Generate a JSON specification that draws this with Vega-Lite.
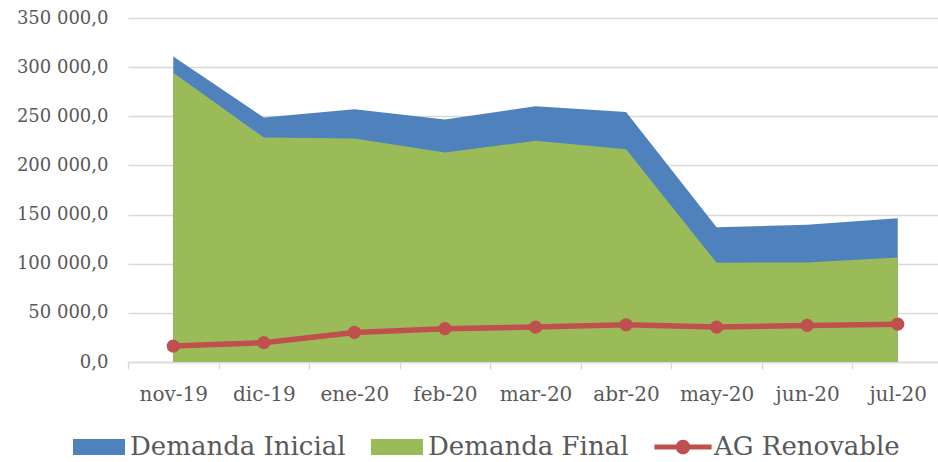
{
  "$schema": "https://vega.github.io/schema/vega-lite/v6.json",
  "width": 815,
  "height": 344,
  "autosize": {"type": "none"},
  "padding": {"left": 128, "top": 18, "right": 0, "bottom": 100},
  "background": "white",
  "config": {
    "view": {"stroke": null},
    "locale": {"number": {"decimal": ",", "thousands": " ", "grouping": [3], "currency": ["", ""]}},
    "font": "DejaVu Serif"
  },
  "data": {
    "values": [
      {"mes": "nov-19", "serie": "Demanda Inicial", "valor": 310800},
      {"mes": "dic-19", "serie": "Demanda Inicial", "valor": 248700},
      {"mes": "ene-20", "serie": "Demanda Inicial", "valor": 257100},
      {"mes": "feb-20", "serie": "Demanda Inicial", "valor": 246700},
      {"mes": "mar-20", "serie": "Demanda Inicial", "valor": 260100},
      {"mes": "abr-20", "serie": "Demanda Inicial", "valor": 254400},
      {"mes": "may-20", "serie": "Demanda Inicial", "valor": 137200},
      {"mes": "jun-20", "serie": "Demanda Inicial", "valor": 139600},
      {"mes": "jul-20", "serie": "Demanda Inicial", "valor": 146300},
      {"mes": "nov-19", "serie": "Demanda Final", "valor": 294300},
      {"mes": "dic-19", "serie": "Demanda Final", "valor": 228400},
      {"mes": "ene-20", "serie": "Demanda Final", "valor": 227400},
      {"mes": "feb-20", "serie": "Demanda Final", "valor": 213200},
      {"mes": "mar-20", "serie": "Demanda Final", "valor": 225000},
      {"mes": "abr-20", "serie": "Demanda Final", "valor": 216500},
      {"mes": "may-20", "serie": "Demanda Final", "valor": 101000},
      {"mes": "jun-20", "serie": "Demanda Final", "valor": 101300},
      {"mes": "jul-20", "serie": "Demanda Final", "valor": 106400},
      {"mes": "nov-19", "serie": "AG Renovable", "valor": 16200},
      {"mes": "dic-19", "serie": "AG Renovable", "valor": 19700},
      {"mes": "ene-20", "serie": "AG Renovable", "valor": 30100},
      {"mes": "feb-20", "serie": "AG Renovable", "valor": 33900},
      {"mes": "mar-20", "serie": "AG Renovable", "valor": 35500},
      {"mes": "abr-20", "serie": "AG Renovable", "valor": 37900},
      {"mes": "may-20", "serie": "AG Renovable", "valor": 35500},
      {"mes": "jun-20", "serie": "AG Renovable", "valor": 37200},
      {"mes": "jul-20", "serie": "AG Renovable", "valor": 38500}
    ]
  },
  "encoding": {
    "x": {
      "field": "mes",
      "type": "ordinal",
      "sort": null,
      "bandPosition": 0.5,
      "scale": {"type": "band", "paddingInner": 0, "paddingOuter": 0},
      "axis": {
        "title": null,
        "labelAngle": 0,
        "tickBand": "extent",
        "domainColor": "#D9D9D9",
        "domainWidth": 1.3,
        "tickColor": "#D9D9D9",
        "tickWidth": 1.3,
        "tickSize": 7,
        "labelPadding": 15,
        "labelFont": "DejaVu Serif",
        "labelFontSize": 20,
        "labelColor": "#595959",
        "grid": false
      }
    },
    "y": {
      "field": "valor",
      "type": "quantitative",
      "stack": null,
      "scale": {"domain": [0, 350000], "nice": false},
      "axis": {
        "title": null,
        "values": [0, 50000, 100000, 150000, 200000, 250000, 300000, 350000],
        "format": ",.1f",
        "domain": false,
        "ticks": false,
        "labelPadding": 20,
        "labelFont": "DejaVu Serif",
        "labelFontSize": 18,
        "labelColor": "#595959",
        "gridColor": "#D9D9D9",
        "gridWidth": 1.3
      }
    },
    "color": {
      "field": "serie",
      "type": "nominal",
      "scale": {
        "domain": ["Demanda Inicial", "Demanda Final", "AG Renovable"],
        "range": ["#4F81BD", "#9BBB59", "#C0504D"]
      },
      "legend": {
        "title": null,
        "orient": "none",
        "direction": "horizontal",
        "legendX": -55,
        "legendY": 403,
        "symbolSize": 2704,
        "labelFont": "DejaVu Serif",
        "labelFontSize": 26,
        "labelColor": "#595959",
        "labelOffset": 5,
        "columnPadding": 25,
        "labelLimit": 400,
        "encode": {
          "symbols": {
            "update": {
              "shape": {"signal": "datum.value === 'AG Renovable' ? 'M-1.1,-0.1H1.1V0.1H-1.1Z M-0.28,0 A0.28,0.28 0 1,1 0.28,0 A0.28,0.28 0 1,1 -0.28,0Z' : 'M-1,-0.31H1V0.31H-1Z'"},
              "fill": {"signal": "datum.value === 'Demanda Inicial' ? '#4F81BD' : datum.value === 'Demanda Final' ? '#9BBB59' : '#C0504D'"},
              "fillOpacity": {"value": 1},
              "opacity": {"value": 1},
              "stroke": {"value": "transparent"},
              "strokeWidth": {"value": 0}
            }
          }
        }
      }
    }
  },
  "layer": [
    {
      "transform": [{"filter": "datum.serie === 'Demanda Inicial'"}],
      "mark": {"type": "area", "opacity": 1}
    },
    {
      "transform": [{"filter": "datum.serie === 'Demanda Final'"}],
      "mark": {"type": "area", "opacity": 1}
    },
    {
      "transform": [{"filter": "datum.serie === 'AG Renovable'"}],
      "mark": {"type": "line", "strokeWidth": 5.5, "point": {"filled": true, "size": 175, "opacity": 1}}
    }
  ]
}
